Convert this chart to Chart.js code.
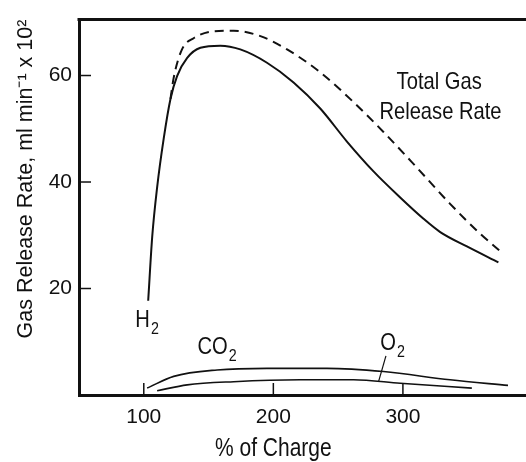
<!DOCTYPE html>
<html>
<head>
<meta charset="utf-8">
<script src="https://cdn.jsdelivr.net/npm/chart.js@4/dist/chart.umd.min.js"></script>
<style>
  html, body { margin: 0; padding: 0; background: #fff; }
  #wrap { width: 526px; height: 462px; }
</style>
</head>
<body>
<div id="wrap"><canvas id="gasChart" width="526" height="462"></canvas></div>
<script>
const FONT = "'Liberation Sans Narrow', 'Arial Narrow', 'Liberation Sans', Arial, sans-serif";
const INK = "#111";
const NARROW = 0.84; // horizontal squeeze for the hand-placed labels

// x ticks / y ticks
const xTicks = [100, 200, 300];
const yTicks = [20, 40, 60];

// H2 (solid)
const h2X = [103.4, 106.5, 110.3, 115.4, 120.6, 125.7, 133.5, 143.7, 159.1, 174.5, 195.1, 215.6, 236.2, 256.8, 277.3, 297.9, 315.9, 328.8, 349.4, 373.7];
const h2Y = [17.7, 29.7, 39.0, 48.2, 55.6, 59.9, 63.3, 65.2, 65.6, 64.9, 62.4, 58.7, 53.8, 47.6, 42.0, 37.1, 33.1, 30.6, 27.9, 24.9];

// total gas release rate (dashed)
const totalX = [120.6, 123.1, 129.5, 138.5, 154.0, 169.4, 190.0, 210.6, 236.2, 261.9, 285.0, 310.8, 336.4, 359.6, 377.1];
const totalY = [55.6, 59.6, 64.9, 67.0, 68.3, 68.4, 67.4, 64.9, 60.6, 55.0, 49.4, 42.7, 35.9, 30.3, 26.6];

// CO2
const co2X = [102.6, 123.1, 156.6, 195.1, 241.4, 285.0, 336.4, 381.1];
const co2Y = [1.3, 3.5, 4.7, 5.0, 5.0, 4.4, 2.85, 1.8];

// O2
const o2X = [110.3, 133.5, 169.4, 220.8, 261.9, 297.9, 353.2];
const o2Y = [0.8, 1.9, 2.5, 2.85, 2.85, 2.2, 1.3];

// leader line from the O2 label
const leaderX = [286.9, 281.2];
const leaderY = [7.35, 2.5];

// text labels placed in data coordinates
const notes = [
  { text: "Total Gas", x: 328, y: 58.8, align: "center" },
  { text: "Release Rate", x: 329, y: 53.1, align: "center" },
  { text: "H", sub: "2", x: 93.5, y: 14.1, align: "left" },
  { text: "CO", sub: "2", x: 141.4, y: 8.9, align: "left" },
  { text: "O", sub: "2", x: 282.5, y: 9.7, align: "left" }
];

function pts(xs, ys) {
  return xs.map((x, i) => ({ x: x, y: ys[i] }));
}

function lineSet(xs, ys, width, dash) {
  return {
    data: pts(xs, ys),
    borderColor: INK,
    borderWidth: width,
    borderDash: dash || [],
    pointRadius: 0,
    fill: false,
    cubicInterpolationMode: "monotone"
  };
}

// squeezed text, returns drawn width
function narrowText(ctx, text, x, y, size, align) {
  ctx.font = size + "px " + FONT;
  const w = ctx.measureText(text).width * NARROW;
  let left = x;
  if (align === "center") left = x - w / 2;
  ctx.save();
  ctx.translate(left, y);
  ctx.scale(NARROW, 1);
  ctx.textAlign = "left";
  ctx.textBaseline = "middle";
  ctx.fillText(text, 0, 0);
  ctx.restore();
  return w;
}

/* ========== frame, inward ticks, labels ========== */
const extras = {
  id: "extras",
  afterDraw(chart) {
    const ctx = chart.ctx;
    const a = chart.chartArea;
    const xs = chart.scales.x;
    const ys = chart.scales.y;
    ctx.save();
    ctx.strokeStyle = INK;
    ctx.fillStyle = INK;

    // top border
    ctx.lineWidth = 3;
    ctx.beginPath();
    ctx.moveTo(a.left - 1.5, a.top);
    ctx.lineTo(a.right, a.top);
    ctx.stroke();

    // inward ticks
    ctx.lineWidth = 1.5;
    yTicks.forEach(v => {
      const p = ys.getPixelForValue(v);
      ctx.beginPath();
      ctx.moveTo(a.left, p);
      ctx.lineTo(a.left + 12, p);
      ctx.stroke();
    });
    xTicks.forEach(v => {
      const p = xs.getPixelForValue(v);
      ctx.beginPath();
      ctx.moveTo(p, a.bottom);
      ctx.lineTo(p, a.bottom - 12);
      ctx.stroke();
    });

    // notes
    notes.forEach(n => {
      const px = xs.getPixelForValue(n.x);
      const py = ys.getPixelForValue(n.y);
      const w = narrowText(ctx, n.text, px, py, 24, n.align);
      if (n.sub) narrowText(ctx, n.sub, px + w + 1, py + 9, 17, "left");
    });

    // x title centred on 200
    narrowText(ctx, "% of Charge", xs.getPixelForValue(200), 449, 25, "center");
    ctx.restore();
  }
};

new Chart(document.getElementById("gasChart"), {
  type: "line",
  data: {
    datasets: [
      lineSet(h2X, h2Y, 2),
      lineSet(totalX, totalY, 2, [9, 6]),
      lineSet(co2X, co2Y, 1.6),
      lineSet(o2X, o2Y, 1.6),
      Object.assign(lineSet(leaderX, leaderY, 1.2), { cubicInterpolationMode: "default", tension: 0 })
    ]
  },
  options: {
    responsive: false,
    animation: false,
    layout: { padding: { top: 13, right: 0, bottom: 0, left: 0 } },
    plugins: { legend: { display: false }, tooltip: { enabled: false } },
    scales: {
      x: {
        type: "linear",
        min: 50,
        max: 395,
        afterBuildTicks: s => { s.ticks = xTicks.map(v => ({ value: v })); },
        afterFit: s => { s.height = 67; },
        grid: { display: false, drawTicks: false },
        border: { display: true, color: INK, width: 3 },
        ticks: { color: INK, padding: 10, font: { family: FONT, size: 21 } }
      },
      y: {
        type: "linear",
        min: 0,
        max: 70.5,
        afterBuildTicks: s => { s.ticks = yTicks.map(v => ({ value: v })); },
        afterFit: s => { s.width = 79; },
        grid: { display: false, drawTicks: false },
        border: { display: true, color: INK, width: 3 },
        ticks: { color: INK, padding: 7, font: { family: FONT, size: 21 } },
        title: {
          display: true,
          text: "Gas Release Rate, ml min\u207B\u00B9 x 10\u00B2",
          align: "end",
          color: INK,
          padding: { top: 13, bottom: 0 },
          font: { family: FONT, size: 21.5 }
        }
      }
    }
  },
  plugins: [extras]
});
</script>
</body>
</html>
